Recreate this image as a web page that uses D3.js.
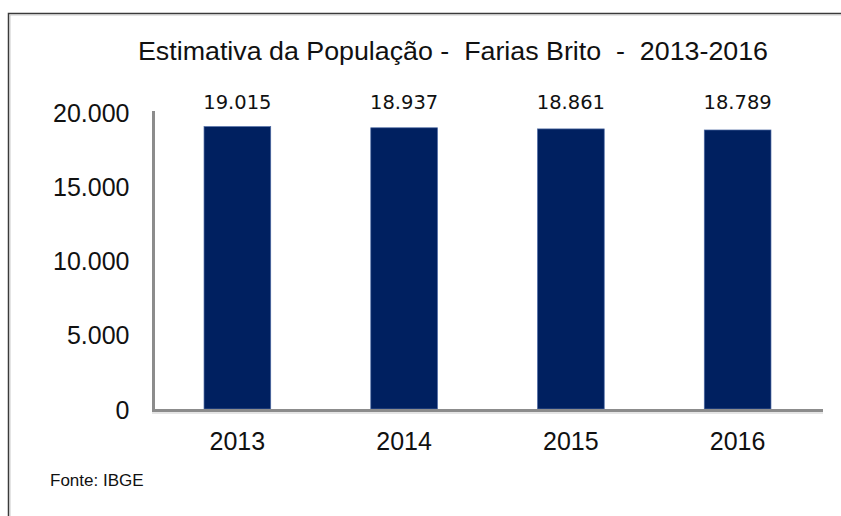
<!DOCTYPE html>
<html><head><meta charset="utf-8">
<script src="https://cdn.jsdelivr.net/npm/d3@7"></script>
<style>html,body{margin:0;padding:0;background:#fff;} svg{display:block;}</style>
</head><body>
<svg id="chart" width="841" height="516"></svg>
<script>
const categories = ["2013", "2014", "2015", "2016"];
const values = [19015, 18937, 18861, 18789];
const valueLabels = ["19.015", "18.937", "18.861", "18.789"];
const yTicks = [0, 5000, 10000, 15000, 20000];
const yTickLabels = ["0", "5.000", "10.000", "15.000", "20.000"];
const title = "Estimativa da População -  Farias Brito  -  2013-2016";
const source = "Fonte: IBGE";

const svg = d3.select("#chart");

// frame
svg.append("path").attr("d", "M8.5,516 V13.5 H841")
  .attr("fill", "none").attr("stroke", "#3a3a3a").attr("stroke-width", 1.5);
svg.append("path").attr("d", "M10,516 V15 H841")
  .attr("fill", "none").attr("stroke", "#bbb").attr("stroke-width", 0.8);

const x = d3.scaleBand().domain(categories).range([154, 821]).paddingInner(0.6).paddingOuter(0.3);
const y = d3.scaleLinear().domain([0, 20000]).range([409, 112]);

// title
svg.append("text").attr("x", 138).attr("y", 60)
  .attr("font-family", "Liberation Sans, Arial, sans-serif").attr("font-size", 25)
  .attr("fill", "#111").attr("textLength", 630).attr("lengthAdjust", "spacingAndGlyphs")
  .style("white-space", "pre").text(title);

// bars
svg.selectAll("rect.bar").data(values).enter().append("rect").attr("class", "bar")
  .attr("x", (d, i) => x(categories[i])).attr("width", x.bandwidth())
  .attr("y", d => y(d)).attr("height", d => y(0) - y(d))
  .attr("fill", "#002060").attr("stroke", "#4d6aa3").attr("stroke-width", 0.7);

// value labels
svg.selectAll("text.val").data(values).enter().append("text").attr("class", "val")
  .attr("x", (d, i) => x(categories[i]) + x.bandwidth() / 2).attr("y", 109)
  .attr("text-anchor", "middle").attr("font-family", "DejaVu Sans, Verdana, sans-serif")
  .attr("font-size", 19.5).attr("fill", "#111").text((d, i) => valueLabels[i]);

// y axis
const yAxis = d3.axisLeft(y).tickValues(yTicks).tickFormat((d, i) => yTickLabels[i]).tickSize(0).tickPadding(24);
const gy = svg.append("g").attr("transform", "translate(153.5,0)").call(yAxis);
gy.select(".domain").remove();
gy.selectAll("text").attr("font-family", "Liberation Sans, Arial, sans-serif").attr("font-size", 25).attr("fill", "#111").attr("dy", "0.36em");
svg.append("line").attr("x1", 153.5).attr("x2", 153.5).attr("y1", 111).attr("y2", 412)
  .attr("stroke", "#8c8c8c").attr("stroke-width", 3);

// x axis
const xAxis = d3.axisBottom(x).tickSize(0).tickPadding(22);
const gx = svg.append("g").attr("transform", "translate(0,410.5)").call(xAxis);
gx.select(".domain").remove();
gx.selectAll("text").attr("font-family", "Liberation Sans, Arial, sans-serif").attr("font-size", 25).attr("fill", "#111");
svg.append("line").attr("x1", 152).attr("x2", 823).attr("y1", 413).attr("y2", 413)
  .attr("stroke", "#dcdcdc").attr("stroke-width", 1.5);
svg.append("line").attr("x1", 152).attr("x2", 823).attr("y1", 410.5).attr("y2", 410.5)
  .attr("stroke", "#8c8c8c").attr("stroke-width", 3);

// source
svg.append("text").attr("x", 50).attr("y", 486)
  .attr("font-family", "Liberation Sans, Arial, sans-serif").attr("font-size", 17)
  .attr("fill", "#111").text(source);
</script>
</body></html>
